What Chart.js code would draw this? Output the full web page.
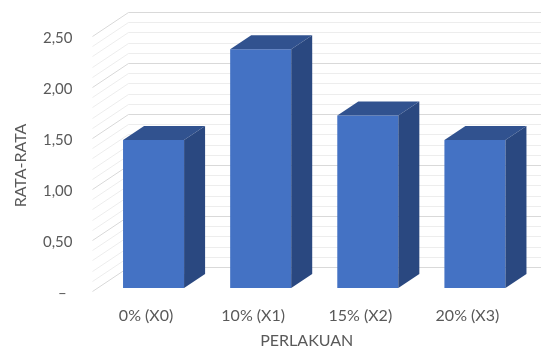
<!DOCTYPE html>
<html>
<head>
<meta charset="utf-8">
<script src="https://cdn.jsdelivr.net/npm/chart.js@4.4.1/dist/chart.umd.min.js"></script>
<style>
  html, body { margin: 0; padding: 0; background: #fff; }
  #wrap { width: 544px; height: 347px; }
</style>
</head>
<body>
<div id="wrap"><canvas id="myChart"></canvas></div>
<script>
// ---- DATA ----
const categories = ['0% (X0)', '10% (X1)', '15% (X2)', '20% (X3)'];
const rataRata = [1.45, 2.34, 1.69, 1.45];
const yMin = 0, yMax = 2.5, yStep = 0.5, gridStep = 0.1;

// ---- 3D look ----
const FRONT = '#4472C4', TOP = '#31528F', SIDE = '#2A4880';
const BAR_DX = 7.5, BAR_DY = -5;     // bars sit a bit behind the front axis
const DEPTH_X = 21, DEPTH_Y = -14;   // bar depth
const WALL_DX = 36, WALL_DY = -24;   // side wall depth

Chart.defaults.font.family = 'Lato';
Chart.defaults.color = '#595959';

const wall = {
  id: 'wall',
  beforeDatasetsDraw(chart) {
    const { ctx, chartArea: { left, right }, scales: { y } } = chart;
    ctx.save();
    ctx.lineWidth = 1;
    const n = Math.round((yMax - yMin) / gridStep);
    for (let i = 0; i <= n; i++) {
      const v = yMin + i * gridStep;
      const py = Math.round(y.getPixelForValue(v)) - 2;
      const major = i % Math.round(yStep / gridStep) === 0;
      ctx.strokeStyle = major ? '#D9D9D9' : '#EDEDED';
      ctx.beginPath();
      ctx.moveTo(left, py + 0.5);
      ctx.lineTo(left + WALL_DX, py + WALL_DY + 0.5);
      ctx.lineTo(right + 20, py + WALL_DY + 0.5);
      ctx.stroke();
    }
    ctx.restore();
    // shift the bars back
    ctx.save();
    ctx.translate(BAR_DX, BAR_DY);
  },
  afterDatasetsDraw(chart) {
    const { ctx } = chart;
    chart.getDatasetMeta(0).data.forEach(bar => {
      const l = bar.x - bar.width / 2, r = bar.x + bar.width / 2, t = bar.y, b = bar.base;
      ctx.fillStyle = TOP;
      ctx.beginPath();
      ctx.moveTo(l, t); ctx.lineTo(l + DEPTH_X, t + DEPTH_Y);
      ctx.lineTo(r + DEPTH_X, t + DEPTH_Y); ctx.lineTo(r, t);
      ctx.closePath(); ctx.fill();
      ctx.fillStyle = SIDE;
      ctx.beginPath();
      ctx.moveTo(r, t); ctx.lineTo(r + DEPTH_X, t + DEPTH_Y);
      ctx.lineTo(r + DEPTH_X, b + DEPTH_Y); ctx.lineTo(r, b);
      ctx.closePath(); ctx.fill();
    });
    ctx.restore();
  }
};

const data = {
  labels: categories,
  datasets: [{
    label: 'Rata-rata',
    data: rataRata,
    backgroundColor: FRONT,
    borderWidth: 0,
    barPercentage: 0.57,
    categoryPercentage: 1
  }]
};

const config = {
  type: 'bar',
  data,
  options: {
    responsive: true,
    maintainAspectRatio: false,
    animation: false,
    layout: { padding: { top: 38, right: 23, left: 0, bottom: 0 } },
    scales: {
      x: {
        grid: { display: false },
        border: { display: false },
        ticks: { font: { size: 16 }, padding: 5 },
        title: { display: true, text: 'PERLAKUAN', font: { size: 16, lineHeight: 1 }, padding: { top: 0, bottom: -2 } },
        afterFit: (s) => { s.height = 54; }
      },
      y: {
        min: yMin, max: yMax,
        grid: { display: false },
        border: { display: false },
        ticks: {
          stepSize: yStep,
          font: { size: 15 },
          padding: 12,
          callback: (v) => v === 0 ? '\u2013 \u2009' : v.toFixed(2).replace('.', ',')
        },
        title: { display: true, text: 'RATA-RATA', font: { size: 16 }, padding: { top: 11 } },
        afterFit: (s) => { s.width = 92.5; }
      }
    },
    plugins: {
      legend: { display: false },
      tooltip: { enabled: false }
    }
  },
  plugins: [wall]
};

const myChart = new Chart(document.getElementById('myChart'), config);
</script>
</body>
</html>
